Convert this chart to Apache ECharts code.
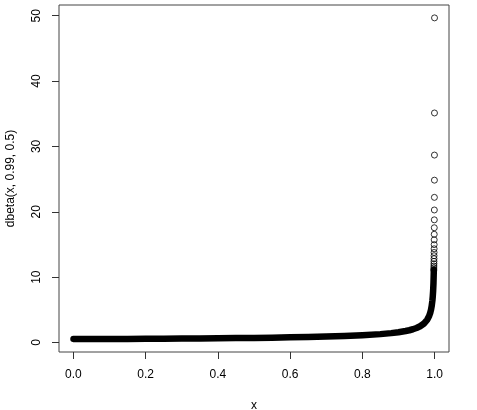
<!DOCTYPE html>
<html>
<head>
<meta charset="utf-8">
<script src="https://cdn.jsdelivr.net/npm/echarts@6/dist/echarts.min.js"></script>
<style>
  html, body { margin: 0; padding: 0; background: #fff; }
  #chart { width: 477px; height: 410px; }
</style>
</head>
<body>
<div id="chart"></div>
<script>
  // dense part of the curve, drawn as a thick band
  const bandX = [0.0001, 0.01, 0.05, 0.1, 0.15, 0.2, 0.25, 0.3, 0.35, 0.4, 0.45, 0.5,
    0.55, 0.6, 0.65, 0.7, 0.75, 0.8, 0.85, 0.88, 0.9, 0.92, 0.93, 0.94, 0.95, 0.96,
    0.97, 0.975, 0.98, 0.985, 0.988, 0.99, 0.992, 0.994, 0.995, 0.996, 0.997, 0.998]
  const bandY = [0.545, 0.523, 0.525, 0.536, 0.549, 0.564, 0.582, 0.601, 0.623, 0.647, 0.675, 0.707,
    0.745, 0.789, 0.843, 0.910, 0.996, 1.113, 1.285, 1.436, 1.572, 1.758, 1.879, 2.029, 2.222, 2.484,
    2.868, 3.142, 3.513, 4.057, 4.535, 4.967, 5.554, 6.413, 7.025, 7.854, 9.069, 11.11]

  // separate circles near x = 1
  const pointX = [0.9999, 0.9998, 0.9997, 0.9996, 0.9995, 0.9994, 0.9993, 0.9992, 0.9991, 0.9990,
    0.9989, 0.9988, 0.9987, 0.9986, 0.9985, 0.9984, 0.9983, 0.9982, 0.9981, 0.9980]
  const pointY = [49.67, 35.12, 28.68, 24.84, 22.21, 20.28, 18.77, 17.56, 16.56, 15.71,
    14.98, 14.34, 13.78, 13.28, 12.83, 12.42, 12.05, 11.71, 11.40, 11.11]

  const xTicks = [0, 0.2, 0.4, 0.6, 0.8, 1.0]
  const yTicks = [0, 10, 20, 30, 40, 50]

  const font = 'Liberation Sans, Arial, sans-serif'
  const chart = echarts.init(document.getElementById('chart'))

  chart.setOption({
    animation: false,
    grid: {
      left: 59, right: 28, top: 5, bottom: 58,
      containLabel: false,
      outerBoundsMode: 'none',
      show: true, borderColor: '#444', borderWidth: 1
    },
    xAxis: {
      type: 'value',
      min: -0.04,
      max: 1.04,
      name: 'x',
      nameLocation: 'middle',
      nameGap: 48,
      nameTextStyle: { color: '#000', fontSize: 12, fontFamily: font },
      axisLine: { show: false, onZero: false },
      splitLine: { show: false },
      axisTick: { show: true, length: 7, customValues: xTicks, lineStyle: { color: '#333' } },
      axisLabel: {
        customValues: xTicks,
        margin: 17,
        color: '#000', fontSize: 12, fontFamily: font,
        formatter: v => v.toFixed(1)
      }
    },
    yAxis: {
      type: 'value',
      min: -1.45,
      max: 51.64,
      name: 'dbeta(x, 0.99, 0.5)',
      nameLocation: 'middle',
      nameGap: 42,
      nameTextStyle: { color: '#000', fontSize: 12, fontFamily: font },
      axisLine: { show: false, onZero: false },
      splitLine: { show: false },
      axisTick: { show: true, length: 7, customValues: yTicks, lineStyle: { color: '#333' } },
      axisLabel: {
        customValues: yTicks,
        rotate: 90,
        margin: 16,
        color: '#000', fontSize: 12, fontFamily: font
      }
    },
    series: [
      {
        type: 'line',
        data: bandX.map((x, i) => [x, bandY[i]]),
        showSymbol: false,
        lineStyle: { color: '#000', width: 6.5, cap: 'round', join: 'round' }
      },
      {
        type: 'scatter',
        data: pointX.map((x, i) => [x, pointY[i]]),
        symbol: 'circle',
        symbolSize: 6,
        itemStyle: { color: 'rgba(0,0,0,0)', borderColor: '#000', borderWidth: 1 }
      }
    ]
  })
</script>
</body>
</html>
